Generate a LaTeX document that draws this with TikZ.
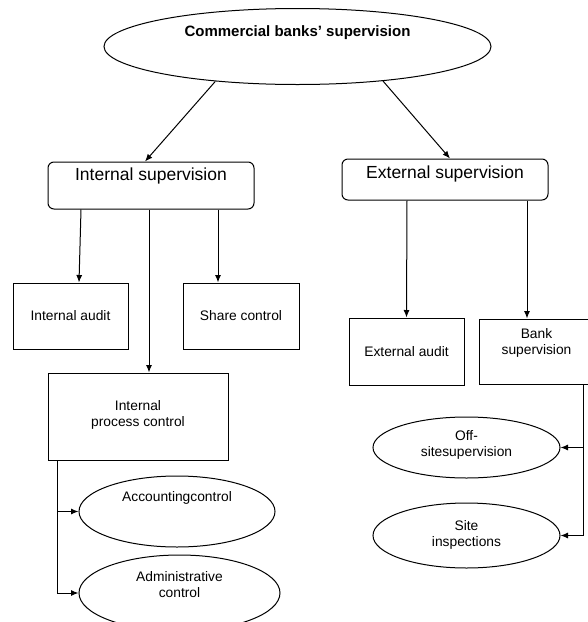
\documentclass[tikz,border=0pt]{standalone}
\usepackage{fontspec}
\setmainfont{Liberation Sans}
\usetikzlibrary{shapes.geometric,arrows.meta}

\begin{document}
\begin{tikzpicture}[x=1pt, y=-1pt, line width=1pt,
  >={Latex[length=7.5pt,width=6pt]},
  every node/.style={inner sep=0pt},
  oval/.style={draw, ellipse},
  box/.style={draw, rectangle},
  rbox/.style={draw, rectangle, rounded corners=6pt},
  small/.style={font=\fontsize{13.8}{16}\selectfont, align=center},
  big/.style={font=\fontsize{17.5}{21}\selectfont}]
\useasboundingbox (0,0) rectangle (588,622);

% top
\node [oval, minimum width=387, minimum height=76, text height=11, text depth=32,
  font=\bfseries\fontsize{15}{18}\selectfont] (title) at (297.5,46.5) {Commercial banks’ supervision};

% internal side
\node [rbox, big, minimum width=206, minimum height=47, text height=13, text depth=24] (intsup) at (151,185.5) {Internal supervision};
\node [box, small, minimum width=115, minimum height=66] (audit) at (70.5,316) {Internal audit};
\node [box, small, minimum width=116, minimum height=66] (share) at (241,316) {Share control};
\node [box, small, minimum width=180, minimum height=87, text height=26, text depth=7] (ipc) at (138,416.5) {Internal\\process control};
\node [oval, small, minimum width=196, minimum height=71, text height=10, text depth=30] (acc) at (177,511.5) {Accountingcontrol};
\node [oval, small, minimum width=201, minimum height=76, text height=26, text depth=18] (adm) at (179.5,593) {Administrative\\control};

% external side
\node [rbox, big, minimum width=206, minimum height=41, text height=13, text depth=16] (extsup) at (445,179.5) {External supervision};
\node [box, small, minimum width=115, minimum height=67] (eaudit) at (406.5,351.5) {External audit};
\node [box, small, minimum width=115, minimum height=65, text height=26, text depth=20] (banksup) at (536.5,351.5) {Bank\\supervision};
\node [oval, small, minimum width=187, minimum height=61, text height=26, text depth=9] (offs) at (466.5,447.5) {Off-\\sitesupervision};
\node [oval, small, minimum width=187, minimum height=65, text height=26, text depth=4] (site) at (466.5,535.5) {Site\\inspections};

\draw [->] (title.203) -- ([xshift=-6pt]intsup.north);
\draw [->] (title.338) -- ([xshift=5pt]extsup.north);

\draw [->] ([xshift=-70pt]intsup.south) -- ([xshift=8.5pt]audit.north);
\draw [->] ([xshift=-2pt]intsup.south) -- ([xshift=11pt]ipc.north);
\draw [->] ([xshift=67pt]intsup.south) -- ([xshift=-23pt]share.north);
\draw [->] ([xshift=10pt]ipc.south west) |- (acc.west);
\draw [->] ([xshift=10pt]ipc.south west) |- (adm.west);

\draw [->] ([xshift=-38pt]extsup.south) -- (eaudit.north);
\draw [->] ([xshift=82pt]extsup.south) -- ([xshift=-9.5pt]banksup.north);
\draw [->] ([xshift=-11pt]banksup.south east) |- (offs.east);
\draw [->] ([xshift=-11pt]banksup.south east) |- (site.east);
\end{tikzpicture}
\end{document}
